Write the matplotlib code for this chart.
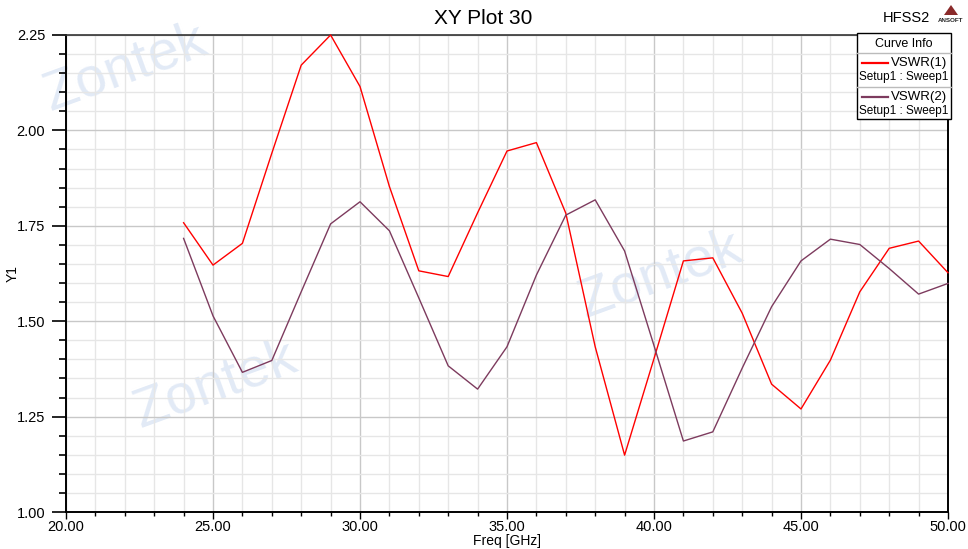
import matplotlib
matplotlib.use("Agg")
import matplotlib.pyplot as plt
from matplotlib.ticker import MultipleLocator, FormatStrFormatter
from matplotlib.patches import Rectangle, Polygon
from matplotlib.lines import Line2D

freq = list(range(24, 51))
vswr1 = [1.758, 1.647, 1.704, 1.94, 2.171, 2.25, 2.115, 1.853, 1.632, 1.617,
         1.784, 1.946, 1.968, 1.783, 1.433, 1.149, 1.402, 1.658, 1.666, 1.521,
         1.335, 1.270, 1.398, 1.577, 1.691, 1.710, 1.627]
vswr2 = [1.717, 1.514, 1.366, 1.397, 1.577, 1.755, 1.813, 1.737, 1.561, 1.383,
         1.322, 1.433, 1.621, 1.778, 1.818, 1.684, 1.436, 1.186, 1.210, 1.377,
         1.538, 1.658, 1.715, 1.701, 1.638, 1.571, 1.599]
names = ["VSWR(1)", "VSWR(2)"]
sweep = "Setup1 : Sweep1"
colors = ["#ff0000", "#7d3b5e"]

plt.rcParams['font.family'] = ['Liberation Sans', 'DejaVu Sans']

W, H = 968, 549
fig = plt.figure(figsize=(W / 100, H / 100), dpi=100)
fig.patch.set_facecolor('white')


def P(x, y):
    return (x / W, 1 - y / H)


# watermarks
wm = '#e2eaf6'
for (x, y) in [(125, 68), (215, 385), (660, 275)]:
    fig.text(*P(x, y), "Zontek", color=wm, fontsize=40, rotation=20,
             ha='center', va='center', zorder=-5)

ax = fig.add_axes([66 / W, 37 / H, 882 / W, 477 / H])
ax.set_facecolor('none')

ax.plot(freq, vswr1, color=colors[0], lw=1.0, clip_on=False, zorder=3)
ax.plot(freq, vswr2, color=colors[1], lw=1.0, clip_on=False, zorder=3)

ax.set_xlim(20, 50)
ax.set_ylim(1.0, 2.25)
ax.xaxis.set_major_locator(MultipleLocator(5))
ax.xaxis.set_minor_locator(MultipleLocator(1))
ax.yaxis.set_major_locator(MultipleLocator(0.25))
ax.yaxis.set_minor_locator(MultipleLocator(0.05))
ax.xaxis.set_major_formatter(FormatStrFormatter('%.2f'))
ax.yaxis.set_major_formatter(FormatStrFormatter('%.2f'))

ax.grid(which='major', color='#c8c8c8', lw=1.0, zorder=1)
ax.grid(which='minor', color='#e6e6e6', lw=1.0, zorder=1)
ax.set_axisbelow(True)

ax.tick_params(axis='y', which='major', direction='out', length=10, width=1.2,
               labelsize=10.5, pad=5, color='black')
ax.tick_params(axis='y', which='minor', direction='out', length=5, width=1.2, color='black')
ax.tick_params(axis='x', which='major', direction='out', length=5, width=1.0,
               labelsize=10.5, pad=1, color='black')
ax.tick_params(axis='x', which='minor', direction='out', length=3, width=1.0, color='black')

for s in ['left', 'right', 'bottom']:
    ax.spines[s].set_color('black')
    ax.spines[s].set_linewidth(1.4)
ax.spines['top'].set_color('#333333')
ax.spines['top'].set_linewidth(1.2)

ax.set_xlabel("Freq [GHz]", fontsize=10, labelpad=0)
ax.set_ylabel("Y1", fontsize=10)
ax.yaxis.set_label_coords((20 - 66) / 882, 0.5)

# title and header
fig.text(*P(483, 18), "XY Plot 30", fontsize=15, ha='center', va='center')
fig.text(*P(906, 18), "HFSS2", fontsize=10.5, ha='center', va='center')
# ANSOFT logo
fig.patches.append(Polygon([P(944, 15), P(951, 5), P(958, 15)], closed=True,
                           transform=fig.transFigure, facecolor='#8a2a2a',
                           edgecolor='none'))
fig.text(*P(951, 20), "ANSOFT", fontsize=4.5, ha='center', va='center',
         fontweight='bold', color='#222222')

# legend box
lx0, ly0, lx1, ly1 = 857, 33, 951, 119
fig.patches.append(Rectangle(P(lx0, ly1), (lx1 - lx0) / W, (ly1 - ly0) / H,
                             transform=fig.transFigure, facecolor='white',
                             edgecolor='black', lw=1.0, zorder=10))
fig.text(*P((lx0 + lx1) / 2, 44), "Curve Info", fontsize=9, ha='center',
         va='center', zorder=11)
for yy in [53, 87]:
    fig.lines.append(Line2D([lx0 / W, lx1 / W], [1 - yy / H, 1 - yy / H],
                            transform=fig.transFigure, color='#bbbbbb', lw=1.0,
                            zorder=11))
for i, (yl, ys) in enumerate([(63, 77), (97, 111)]):
    fig.lines.append(Line2D([862 / W, 888 / W], [1 - yl / H, 1 - yl / H],
                            transform=fig.transFigure, color=colors[i], lw=1.6,
                            zorder=11))
    fig.text(*P(947, yl), names[i], fontsize=9.5, ha='right', va='center', zorder=11)
    fig.text(*P(904, ys), sweep, fontsize=8.5, ha='center', va='center', zorder=11)

fig.savefig("out.png", dpi=100)
